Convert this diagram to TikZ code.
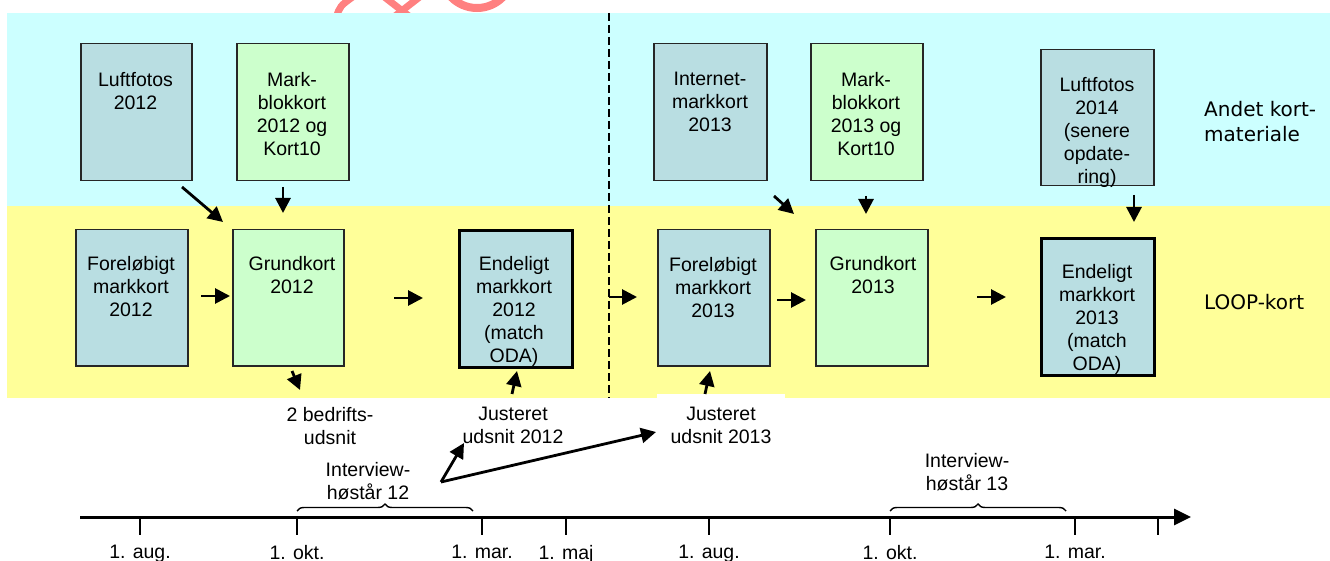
\documentclass[tikz,border=0pt]{standalone}
\usepackage{fontspec}
\setmainfont{Liberation Sans}
\newfontfamily\verd{DejaVu Sans}
\usetikzlibrary{arrows.meta,decorations.pathreplacing}
\definecolor{bandcyan}{RGB}{204,255,255}
\definecolor{bandyellow}{RGB}{255,255,153}
\definecolor{boxblue}{RGB}{185,222,226}
\definecolor{boxgreen}{RGB}{204,255,204}
\definecolor{wmred}{RGB}{255,128,128}
\begin{document}
\begin{tikzpicture}[x=1pt,y=-1pt,
  box/.style={draw=black!85, line width=1.5pt, inner sep=0pt, anchor=north west},
  bluebox/.style={box, fill=boxblue},
  greenbox/.style={box, fill=boxgreen},
  thickbox/.style={line width=3pt, draw=black},
  txt/.style={font=\fontsize{19.5}{23}\selectfont, align=center, inner sep=0pt, anchor=north},
  side/.style={font=\verd\fontsize{20}{25}\selectfont, align=left, inner sep=0pt},
  arr/.style={line width=2.8pt, -{Triangle[length=15pt,width=15pt]}},
  tick/.style={line width=2pt},
  brc/.style={line width=1.4pt, decorate, decoration={brace, amplitude=7pt}}
]
\useasboundingbox (0,0) rectangle (1330,561);

% watermark fragment
\begin{scope}
  \clip (0,0) rectangle (1330,13);
  \draw[wmred, line width=7pt] (336,18) .. controls (340,6) .. (354,-4);
  \draw[wmred, line width=7pt] (378,-8) -- (414,20);
  \draw[wmred, line width=7pt] (426,-8) -- (390,20);
  \draw[wmred, line width=8pt] (477,-28) circle (36);
\end{scope}

% bands
\fill[bandcyan] (7,13) rectangle (1330,206);
\fill[bandyellow] (7,206) rectangle (1330,398);

% dashed separator
\coordinate (dv0) at (609,13);
\coordinate (dv1) at (609,398);
\draw[line width=1.8pt, dash pattern=on 8pt off 4pt] (dv0) -- (dv1);

% top boxes
\node[bluebox, minimum width=111pt, minimum height=137pt] (lf12) at (80,43) {};
\node[greenbox, minimum width=112pt, minimum height=137pt] (mb12) at (236,43) {};
\node[bluebox, minimum width=113pt, minimum height=137pt] (im13) at (653,43) {};
\node[greenbox, minimum width=112pt, minimum height=137pt] (mb13) at (810,43) {};
\node[bluebox, minimum width=113pt, minimum height=136pt] (lf14) at (1040,49) {};

% bottom boxes
\node[bluebox, minimum width=112pt, minimum height=136pt] (fm12) at (75,229) {};
\node[greenbox, minimum width=111pt, minimum height=136pt] (gk12) at (232,229) {};
\node[bluebox, thickbox, minimum width=113pt, minimum height=137pt] (em12) at (458,229) {};
\node[bluebox, minimum width=112pt, minimum height=136pt] (fm13) at (657,229) {};
\node[greenbox, minimum width=112pt, minimum height=136pt] (gk13) at (815,229) {};
\node[bluebox, thickbox, minimum width=113pt, minimum height=137pt] (em13) at (1040,237) {};

% box texts
\node[txt] (lf12t) at (135.5,72) {Luftfotos\\2012};
\node[txt] (mb12t) at (292,72) {Mark-\\blokkort\\2012 og\\Kort10};
\node[txt] (im13t) at (710,72) {Internet-\\markkort\\2013};
\node[txt] (mb13t) at (866,72) {Mark-\\blokkort\\2013 og\\Kort10};
\node[txt] (lf14t) at (1097,77) {Luftfotos\\2014\\(senere\\opdate-\\ring)};
\node[txt] (fm12t) at (131,256) {Foreløbigt\\markkort\\2012};
\node[txt] (gk12t) at (292,256) {Grundkort\\2012};
\node[txt] (em12t) at (514,256) {Endeligt\\markkort\\2012\\(match\\ODA)};
\node[txt] (fm13t) at (713,257) {Foreløbigt\\markkort\\2013};
\node[txt] (gk13t) at (873,256) {Grundkort\\2013};
\node[txt] (em13t) at (1097,264) {Endeligt\\markkort\\2013\\(match\\ODA)};

% side texts
\node[side, anchor=north west] (andet) at (1204,101) {Andet kort-\\materiale};
\node[side, anchor=west] (loop) at (1204,302) {LOOP-kort};

% labels below
\node[txt] (bed) at (330,407) {2 bedrifts-\\udsnit};
\node[txt] (ju12) at (513,407) {Justeret\\udsnit 2012};
\node[txt, fill=white, inner xsep=14pt, inner ysep=13pt] (ju13) at (721,394) {Justeret\\udsnit 2013};
\node[txt] (iv12) at (368,462) {Interview-\\høstår 12};
\node[txt] (iv13) at (967,453) {Interview-\\høstår 13};

% arrows (named end points)
\coordinate (a1s) at (182,187); \coordinate (a1e) at (223,222);
\coordinate (a2s) at (283,187); \coordinate (a2e) at (283,213);
\coordinate (a3s) at (201,296); \coordinate (a3e) at (230,296);
\coordinate (a4s) at (394,298); \coordinate (a4e) at (423,298);
\coordinate (a5s) at (609,297); \coordinate (a5e) at (637,297);
\coordinate (a6s) at (777,300); \coordinate (a6e) at (806,300);
\coordinate (a7s) at (977,297); \coordinate (a7e) at (1006,297);
\coordinate (a8s) at (774,196); \coordinate (a8e) at (794,214);
\coordinate (a9s) at (866,196); \coordinate (a9e) at (866,214);
\coordinate (a10s) at (1134,195); \coordinate (a10e) at (1134,222);
\coordinate (a11s) at (292,371); \coordinate (a11e) at (300,390);
\coordinate (a12s) at (512,394); \coordinate (a12e) at (517,371);
\coordinate (a13s) at (705,394); \coordinate (a13e) at (710,371);
\coordinate (ivp) at (441,482);
\coordinate (a14e) at (464,443);
\coordinate (a15e) at (656,432);

\draw[arr] (a1s) -- (a1e);
\draw[arr] (a2s) -- (a2e);
\draw[arr] (a3s) -- (a3e);
\draw[arr] (a4s) -- (a4e);
\draw[arr] (a5s) -- (a5e);
\draw[arr] (a6s) -- (a6e);
\draw[arr] (a7s) -- (a7e);
\draw[arr] (a8s) -- (a8e);
\draw[arr] (a9s) -- (a9e);
\draw[arr] (a10s) -- (a10e);
\draw[arr] (a11s) -- (a11e);
\draw[arr] (a12s) -- (a12e);
\draw[arr] (a13s) -- (a13e);
\draw[arr] (ivp) -- (a14e);
\draw[arr] (ivp) -- (a15e);

% braces
\coordinate (b1a) at (297,511); \coordinate (b1b) at (473,511);
\coordinate (b2a) at (890,511); \coordinate (b2b) at (1066,511);
\draw[brc] (b1a) -- (b1b);
\draw[brc] (b2a) -- (b2b);

% timeline
\coordinate (tl0) at (80,517);
\coordinate (tl1) at (1191,517);
\draw[line width=3pt, -{Triangle[length=17pt,width=16pt]}] (tl0) -- (tl1);

\foreach \i/\x in {1/140, 2/297, 3/482, 4/566, 5/709, 6/890, 7/1075, 8/1158} {
  \coordinate (tk\i) at (\x,517);
  \draw[tick] (tk\i) -- ++(0,18);
}
\node[txt] (l1) at (140,545) {1. aug.};
\node[txt] (l2) at (297,545) {1. okt.};
\node[txt] (l3) at (482,545) {1. mar.};
\node[txt] (l4) at (566,545) {1. maj};
\node[txt] (l5) at (709,545) {1. aug.};
\node[txt] (l6) at (890,545) {1. okt.};
\node[txt] (l7) at (1075,545) {1. mar.};
\end{tikzpicture}
\end{document}
